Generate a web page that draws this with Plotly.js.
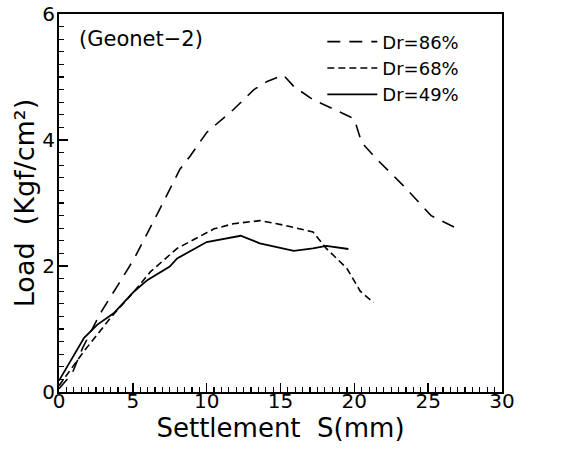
<!DOCTYPE html>
<html>
<head>
<meta charset="utf-8">
<script src="https://cdn.plot.ly/plotly-3.0.1.min.js"></script>
<style>html,body{margin:0;padding:0;background:#fff;}</style>
</head>
<body>
<div id="chart" style="width:575px;height:462px;"></div>
<script>
// Dr = 86% (long dash)
var x86 = [0, 0.9, 1.6, 2.8, 4.0, 5.1, 6.6, 8.2, 8.9, 10.0, 11.8, 13.2, 14.1, 15.2, 15.9, 17.2, 19.7, 20.0, 20.5, 21.5, 23.3, 25.2, 27.0];
var y86 = [0.05, 0.30, 0.70, 1.25, 1.70, 2.12, 2.80, 3.54, 3.75, 4.12, 4.48, 4.80, 4.93, 5.03, 4.85, 4.64, 4.37, 4.33, 3.96, 3.70, 3.28, 2.80, 2.59];
// Dr = 68% (short dash)
var x68 = [0, 0.8, 1.7, 3.5, 5.1, 6.2, 8.0, 10.5, 11.8, 13.6, 15.2, 17.2, 18.1, 19.5, 20.4, 21.3];
var y68 = [0.10, 0.35, 0.65, 1.18, 1.60, 1.91, 2.28, 2.59, 2.67, 2.72, 2.65, 2.54, 2.28, 1.96, 1.60, 1.42];
// Dr = 49% (solid)
var x49 = [0, 0.8, 1.7, 2.6, 3.7, 5.1, 6.0, 7.5, 8.0, 10.0, 12.3, 13.6, 15.9, 17.2, 18.1, 19.6];
var y49 = [0.18, 0.49, 0.86, 1.07, 1.25, 1.60, 1.78, 1.99, 2.12, 2.38, 2.48, 2.36, 2.24, 2.28, 2.32, 2.27];

var names = ['Dr=86%', 'Dr=68%', 'Dr=49%'];
var xTickStep = 5;
var yTickStep = 2;

var F = 'DejaVu Sans, sans-serif';
var traces = [
  {x: x86, y: y86, name: names[0], mode: 'lines', line: {color: '#000', width: 1.6, dash: '13px,9px'}},
  {x: x68, y: y68, name: names[1], mode: 'lines', line: {color: '#000', width: 1.6, dash: '7px,4px'}},
  {x: x49, y: y49, name: names[2], mode: 'lines', line: {color: '#000', width: 1.8}}
];

var layout = {
  width: 575, height: 462,
  margin: {l: 59, r: 73, t: 14, b: 70},
  paper_bgcolor: '#fff', plot_bgcolor: '#fff',
  showlegend: true,
  legend: {x: 0.915, xanchor: 'right', y: 0.975, yanchor: 'top', bgcolor: 'rgba(0,0,0,0)',
           font: {family: F, size: 18, color: '#000'}, itemwidth: 50, tracegroupgap: 0},
  xaxis: {
    range: [0, 30], tickmode: 'linear', tick0: 0, dtick: xTickStep,
    ticks: 'inside', ticklen: 9, tickwidth: 1.5, tickcolor: '#000',
    minor: {dtick: 0.5, tick0: 0, ticks: 'inside', ticklen: 5, tickwidth: 1.2, tickcolor: '#000'},
    showline: true, linecolor: '#000', linewidth: 2, mirror: true,
    showgrid: false, zeroline: false,
    tickfont: {family: F, size: 20, color: '#000'}, ticklabelstandoff: -10,
    title: {text: 'Settlement  S(mm)', font: {family: F, size: 26, color: '#000'}, standoff: 0}
  },
  yaxis: {
    range: [0, 6], tickmode: 'linear', tick0: 0, dtick: yTickStep,
    ticks: 'inside', ticklen: 9, tickwidth: 1.5, tickcolor: '#000',
    minor: {dtick: 0.2, tick0: 0, ticks: 'inside', ticklen: 5, tickwidth: 1.2, tickcolor: '#000'},
    showline: true, linecolor: '#000', linewidth: 2, mirror: true,
    showgrid: false, zeroline: false,
    tickfont: {family: F, size: 20, color: '#000'}, ticklabelstandoff: -2,
    title: {text: 'Load  (Kgf/cm\u00B2)', font: {family: F, size: 27, color: '#000'}, standoff: 0}
  },
  annotations: [
    {xref: 'paper', yref: 'paper', x: 0.04, y: 0.935, xanchor: 'left', yanchor: 'middle',
     text: '(Geonet\u22122)', showarrow: false, font: {family: F, size: 21, color: '#000'}}
  ]
};

Plotly.newPlot('chart', traces, layout, {staticPlot: true});
</script>
</body>
</html>
